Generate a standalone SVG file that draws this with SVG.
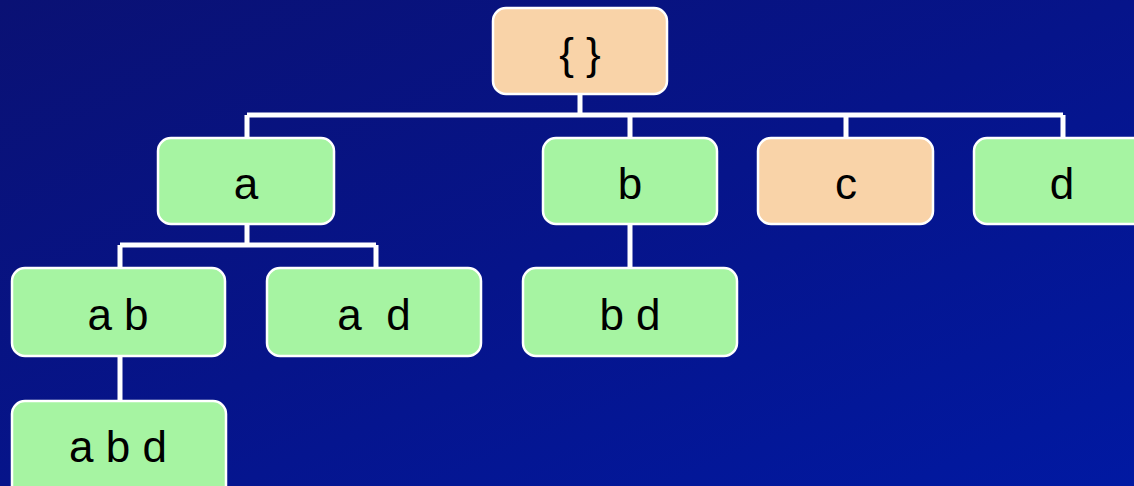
<svg xmlns="http://www.w3.org/2000/svg" width="1134" height="486" viewBox="0 0 1134 486">
  <defs>
    <linearGradient id="bg" x1="0" y1="0" x2="1" y2="1">
      <stop offset="0" stop-color="#0a1174"/>
      <stop offset="0.5" stop-color="#06148a"/>
      <stop offset="1" stop-color="#0119a2"/>
    </linearGradient>
    <style>
      .box { stroke: #ffffff; stroke-width: 2.5; }
      .green { fill: #a6f4a2; }
      .peach { fill: #f9d3a8; }
      .lbl { font-family: "Liberation Sans", Arial, sans-serif; font-size: 44px; fill: #000000; text-anchor: middle; }
      .wire { stroke: #ffffff; stroke-width: 5; fill: none; }
    </style>
  </defs>

  <rect width="1134" height="486" fill="url(#bg)"/>

  <!-- tree connectors -->
  <g id="connectors">
    <path class="wire" d="M580 94 V115 M247 115 H1063 M247 115 V138 M630 115 V138 M846 115 V138 M1063 115 V138"/>
    <path class="wire" d="M247 224 V245 M120 245 H376 M120 245 V268 M376 245 V268"/>
    <path class="wire" d="M630 224 V268"/>
    <path class="wire" d="M120 356 V401"/>
  </g>

  <g id="root">
    <rect class="box peach" x="493" y="8" width="174" height="86" rx="13"/>
    <text class="lbl" x="580" y="69">{ }</text>
  </g>
  <g id="node-a">
    <rect class="box green" x="158" y="138" width="176" height="86" rx="13"/>
    <text class="lbl" x="246" y="199">a</text>
  </g>
  <g id="node-b">
    <rect class="box green" x="543" y="138" width="174" height="86" rx="13"/>
    <text class="lbl" x="630" y="199">b</text>
  </g>
  <g id="node-c">
    <rect class="box peach" x="758" y="138" width="175" height="86" rx="13"/>
    <text class="lbl" x="846" y="199">c</text>
  </g>
  <g id="node-d">
    <rect class="box green" x="974" y="138" width="176" height="86" rx="13"/>
    <text class="lbl" x="1062" y="199">d</text>
  </g>
  <g id="node-ab">
    <rect class="box green" x="12" y="268" width="213" height="88" rx="13"/>
    <text class="lbl" x="118" y="330">a b</text>
  </g>
  <g id="node-ad">
    <rect class="box green" x="267" y="268" width="214" height="88" rx="13"/>
    <text class="lbl" x="374" y="330" xml:space="preserve">a  d</text>
  </g>
  <g id="node-bd">
    <rect class="box green" x="523" y="268" width="214" height="88" rx="13"/>
    <text class="lbl" x="630" y="330">b d</text>
  </g>
  <g id="node-abd">
    <rect class="box green" x="12" y="401" width="214" height="100" rx="13"/>
    <text class="lbl" x="118" y="462">a b d</text>
  </g>
</svg>
